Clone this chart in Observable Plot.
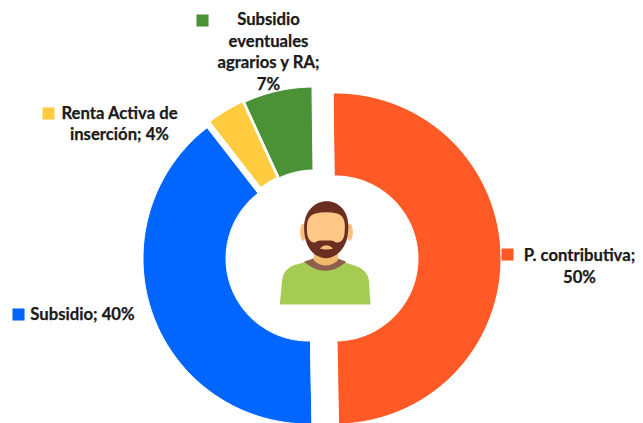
<!DOCTYPE html>
<html><head><meta charset="utf-8">
<script src="https://cdn.jsdelivr.net/npm/d3@7"></script>
<script src="https://cdn.jsdelivr.net/npm/@observablehq/plot@0.6"></script>
<style>html,body{margin:0;padding:0;background:#fff}svg{display:block}</style>
</head><body><div id="chart"></div>
<script>
const categories = ["P. contributiva", "Subsidio", "Renta Activa de inserción", "Subsidio eventuales agrarios y RA"];
const shares = [49.9, 39.8, 3.65, 6.65];
const labels = ["P. contributiva;\n50%", "Subsidio; 40%", "Renta Activa de\ninserción; 4%", "Subsidio\neventuales\nagrarios y RA;\n7%"];
const colors = ["#FF5A26", "#0066FF", "#FFCC40", "#4A9235"];

// layout
const W = 643, H = 423, R = 165.5, r = 82.5, startDeg = -0.7;
const centers = [[335, 258], [308, 258], [311, 252], [313.5, 252]];
const labelPos = [[579, 264.5], [82, 313], [119, 122], [268, 50]];
const keyPos = [[507, 254], [18, 314], [48, 113], [202, 20]];

const total = d3.sum(shares);
let acc = startDeg;
const outline = [];
categories.forEach((name, i) => {
  const a0 = acc * Math.PI / 180, a1 = (acc + shares[i] / total * 360) * Math.PI / 180;
  acc += shares[i] / total * 360;
  const n = Math.max(8, Math.ceil((a1 - a0) * 60));
  const [cx, cy] = centers[i];
  for (let k = 0; k <= n; k++) {
    const a = a0 + (a1 - a0) * k / n;
    outline.push({name, x: cx + R * Math.sin(a), y: cy - R * Math.cos(a)});
  }
  for (let k = n; k >= 0; k--) {
    const a = a0 + (a1 - a0) * k / n;
    outline.push({name, x: cx + r * Math.sin(a), y: cy - r * Math.cos(a)});
  }
});

const icon = `<svg xmlns="http://www.w3.org/2000/svg" viewBox="0 0 390 375" width="130" height="125">
<path fill="#A5CB52" d="M58,342 L330,342 L325,268 Q320,238 285,226 L235,210 L150,210 L100,224 Q70,234 65,268 Z"/>
<path fill="#8F5F4E" d="M130,214 L158,204 L232,204 L258,214 Q195,268 130,214 Z"/>
<path fill="#F5B96E" d="M160,170 L160,210 Q195,240 232,210 L232,170 Z"/>
<ellipse cx="128" cy="125" rx="9" ry="26" fill="#F9C07C"/>
<ellipse cx="268" cy="125" rx="9" ry="26" fill="#F9C07C"/>
<path fill="#6B2F22" d="M132,130 C123,62 165,32 197,32 C235,32 272,62 262,130 C258,175 225,203 197,203 C165,203 136,175 132,130 Z"/>
<path fill="#FFC785" d="M140,130 C138,95 140,76 165,69 Q197,62 230,69 C252,76 256,95 252,130 C250,148 240,160 225,155 C215,148 205,150 197,150 C185,150 175,148 165,155 C155,160 142,148 140,130 Z"/>
<path fill="#F9C07C" d="M178,174 Q197,155 218,174 Q197,180 178,174 Z"/>
</svg>`;
const iconSrc = "data:image/svg+xml;utf8," + encodeURIComponent(icon);

const idx = d3.range(categories.length);
const chart = Plot.plot({
  width: W, height: H, margin: 0,
  x: {domain: [0, W], range: [0, W], axis: null},
  y: {domain: [0, H], range: [0, H], axis: null},
  color: {domain: categories, range: colors},
  marks: [
    Plot.line(outline, {x: "x", y: "y", z: "name", fill: "name", stroke: "white", strokeWidth: 1, curve: "linear-closed"}),
    Plot.image([0], {x: () => 325, y: () => 252.5, width: 130, height: 125, src: () => iconSrc}),
    Plot.dot(idx, {x: i => keyPos[i][0], y: i => keyPos[i][1], symbol: "square", r: 6.8, fill: i => categories[i]}),
    Plot.text(idx, {x: i => labelPos[i][0], y: i => labelPos[i][1], text: i => labels[i],
      fontFamily: "Lato", fontWeight: 700, fontSize: 16.7, lineHeight: 1.29, fill: "#1a1a1a", stroke: "#1a1a1a", strokeWidth: 0.25, textAnchor: "middle"})
  ]
});
document.getElementById("chart").append(chart);
</script></body></html>
